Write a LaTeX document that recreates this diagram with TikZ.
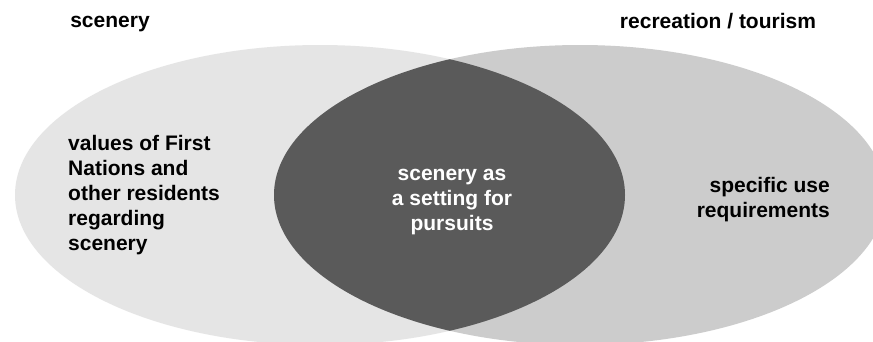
\documentclass[tikz,border=0pt]{standalone}
\usepackage{fontspec}
\setmainfont{Liberation Sans}
\definecolor{leftgray}{HTML}{E5E5E5}
\definecolor{rightgray}{HTML}{CCCCCC}
\definecolor{lensgray}{HTML}{5A5A5A}
\begin{document}
\begin{tikzpicture}[x=1pt,y=-1pt,
  lbl/.style={font=\fontsize{21}{25}\selectfont\bfseries, inner sep=0pt, text=black},
  lenslbl/.style={lbl, text=white}]
\useasboundingbox (0,0) rectangle (873,341);
\fill[white] (0,0) rectangle (873,341);
\fill[leftgray] (320,195) ellipse [x radius=305, y radius=150];
\fill[rightgray] (580,195) ellipse [x radius=306, y radius=150];
\begin{scope}
  \clip (320,195) ellipse [x radius=305, y radius=150];
  \fill[lensgray] (580,195) ellipse [x radius=306, y radius=150];
\end{scope}
\node[lbl, anchor=base] (tscenery) at (110,27) {scenery};
\node[lbl, anchor=base] (trec) at (718,28) {recreation / tourism};
\node[lbl, anchor=north west, align=left] (tvalues) at (68,135)
  {values of First\\Nations and\\other residents\\regarding\\scenery};
\node[lenslbl, anchor=center, align=center] (tlens) at (452,202)
  {scenery as\\a setting for\\pursuits};
\node[lbl, anchor=east, align=right] (tuse) at (830,200)
  {specific use\\requirements};
\end{tikzpicture}
\end{document}
